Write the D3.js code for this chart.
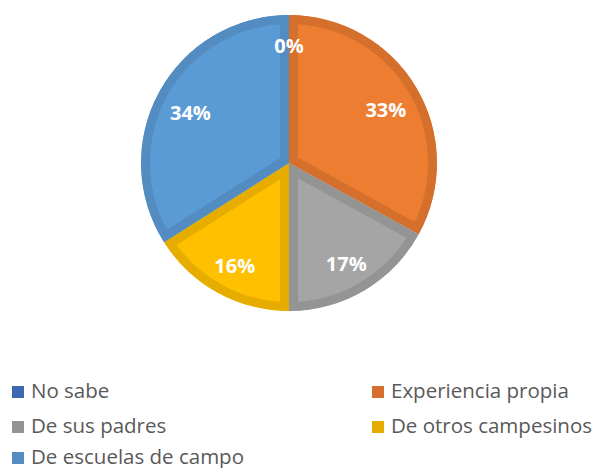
<!DOCTYPE html>
<html>
<head>
<meta charset="utf-8">
<script src="https://cdn.jsdelivr.net/npm/d3@7"></script>
<style>
  body { margin: 0; background: #fff; }
  text { font-family: "Open Sans", "DejaVu Sans", sans-serif; }
</style>
</head>
<body>
<div id="chart"></div>
<script>
// data
const categories = ['No sabe', 'Experiencia propia', 'De sus padres', 'De otros campesinos', 'De escuelas de campo'];
const values = [0, 33, 17, 16, 34];
const labels = ['0%', '33%', '17%', '16%', '34%'];

const fills = ['#4472C4', '#ED7D31', '#A5A5A5', '#FFC000', '#5B9BD5'];
const borders = ['#3E67B1', '#D5702C', '#949494', '#E6AD00', '#528CC0'];

const width = 595;
const height = 468;
const cx = 289;
const cy = 163;
const radius = 148;

const data = categories.map((c, i) => ({ name: c, value: values[i], label: labels[i], i }));

const svg = d3
  .select('#chart')
  .append('svg')
  .attr('width', width)
  .attr('height', height);

const pie = d3.pie().sort(null).value(d => d.value);
const arc = d3.arc().innerRadius(0).outerRadius(radius);
const labelArc = d3.arc().innerRadius(radius * 0.76).outerRadius(radius * 0.76);
// empty slices get their label pushed further out, like Excel does
const edgeArc = d3.arc().innerRadius(radius * 0.82).outerRadius(radius * 0.82);

const arcs = pie(data);

const g = svg.append('g').attr('transform', `translate(${cx},${cy})`);

// clip paths so the darker border sits inside each slice
const defs = svg.append('defs');
arcs.forEach((a, i) => {
  defs.append('clipPath')
    .attr('id', `clip${i}`)
    .append('path')
    .attr('d', arc(a));
});

g.selectAll('path.slice')
  .data(arcs)
  .enter()
  .append('path')
  .attr('class', 'slice')
  .attr('d', arc)
  .attr('fill', d => fills[d.data.i])
  .attr('stroke', d => borders[d.data.i])
  .attr('stroke-width', 18)
  .attr('stroke-linejoin', 'miter')
  .attr('clip-path', d => `url(#clip${d.data.i})`);

g.selectAll('text.pct')
  .data(arcs)
  .enter()
  .append('text')
  .attr('class', 'pct')
  .attr('transform', d => {
    const [x, y] = (d.value === 0 ? edgeArc : labelArc).centroid(d);
    return `translate(${x},${y + 4})`;
  })
  .attr('text-anchor', 'middle')
  .attr('dy', '0.35em')
  .attr('fill', '#fff')
  .attr('font-weight', 'bold')
  .attr('font-size', 20)
  .text(d => d.data.label);

// legend, two columns
const legend = svg.append('g');
const cols = [12, 372];
const rows = [398, 433, 464]; // baselines

const item = legend.selectAll('g.item')
  .data(data)
  .enter()
  .append('g')
  .attr('class', 'item')
  .attr('transform', (d, i) => `translate(${cols[i % 2]},${rows[Math.floor(i / 2)]})`);

item.append('rect')
  .attr('x', 0)
  .attr('y', -12)
  .attr('width', 12)
  .attr('height', 12)
  .attr('fill', d => borders[d.i]);

item.append('text')
  .attr('x', 19)
  .attr('fill', '#595959')
  .attr('font-size', 20.5)
  .text(d => d.name);
</script>
</body>
</html>
